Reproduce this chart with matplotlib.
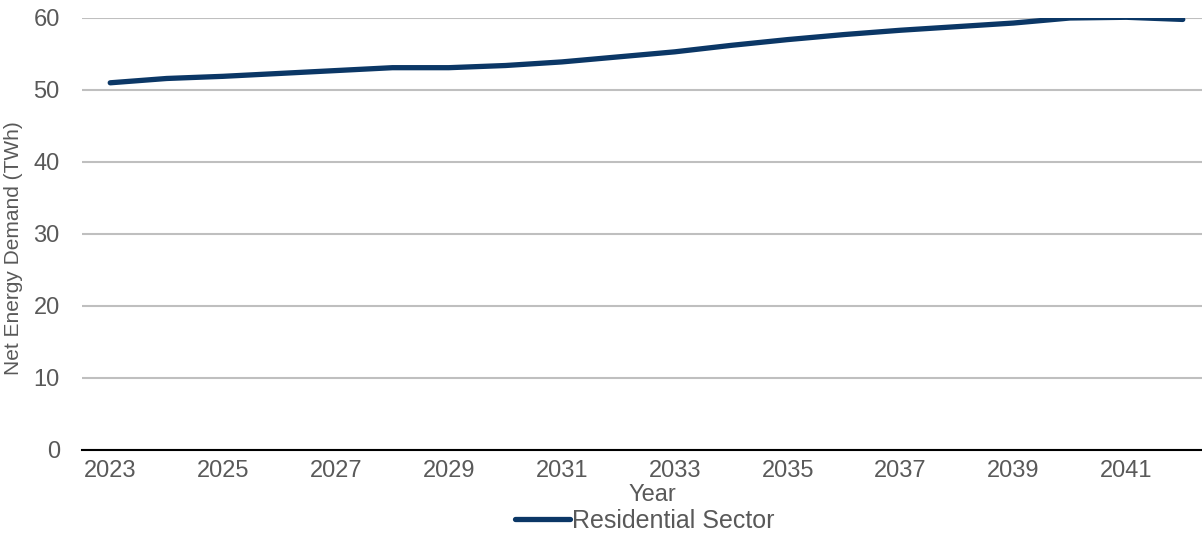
import matplotlib
matplotlib.use("Agg")
import matplotlib.pyplot as plt

years = list(range(2023, 2043))
residential = [51.0, 51.6, 51.9, 52.3, 52.7, 53.1, 53.1, 53.4, 53.9, 54.6,
               55.3, 56.2, 57.0, 57.7, 58.3, 58.8, 59.3, 60.0, 60.1, 59.8]
yticks = [0, 10, 20, 30, 40, 50, 60]
xtick_labels = [str(y) for y in range(2023, 2043, 2)]

plt.rcParams["font.family"] = ["Liberation Sans", "DejaVu Sans"]
GRAY = "#595959"

W, H = 1202, 533
fig = plt.figure(figsize=(W / 100, H / 100), dpi=100)
left, right, top, bottom = 82, 1211, 18, 450
ax = fig.add_axes([left / W, 1 - bottom / H, (right - left) / W, (bottom - top) / H])

x = list(range(len(years)))
ax.plot(x, residential, color="#0b3766", lw=3.8, solid_capstyle="round",
        solid_joinstyle="round", label="Residential Sector")

ax.set_xlim(-0.5, len(years) - 0.5)
ax.set_ylim(0, 60)
ax.set_yticks(yticks)
ax.set_xticks(range(0, len(years), 2))
ax.set_xticklabels(xtick_labels)
ax.grid(axis="y", color="#bfbfbf", lw=1.5)
ax.set_axisbelow(True)
for s in ["top", "right", "left"]:
    ax.spines[s].set_visible(False)
ax.spines["bottom"].set_color("#000000")
ax.spines["bottom"].set_linewidth(1.5)
ax.spines["bottom"].set_zorder(3)
ax.tick_params(axis="both", length=0, labelsize=17, colors=GRAY)
ax.tick_params(axis="x", pad=7)
ax.tick_params(axis="y", pad=16)

ax.set_xlabel("Year", fontsize=17, color=GRAY)
ax.xaxis.set_label_coords((652 - left) / (right - left), (bottom - 484) / (bottom - top))
ax.set_ylabel("Net Energy Demand (TWh)", fontsize=15, color=GRAY)
ax.yaxis.set_label_coords((23 - left) / (right - left), (bottom - 248) / (bottom - top))

fig.legend(loc="center", bbox_to_anchor=(645 / W, 1 - 521 / H), frameon=False,
           fontsize=18, labelcolor=GRAY, handlelength=2.2, handletextpad=0.1,
           borderpad=0, borderaxespad=0)

fig.savefig("out.png", dpi=100)
